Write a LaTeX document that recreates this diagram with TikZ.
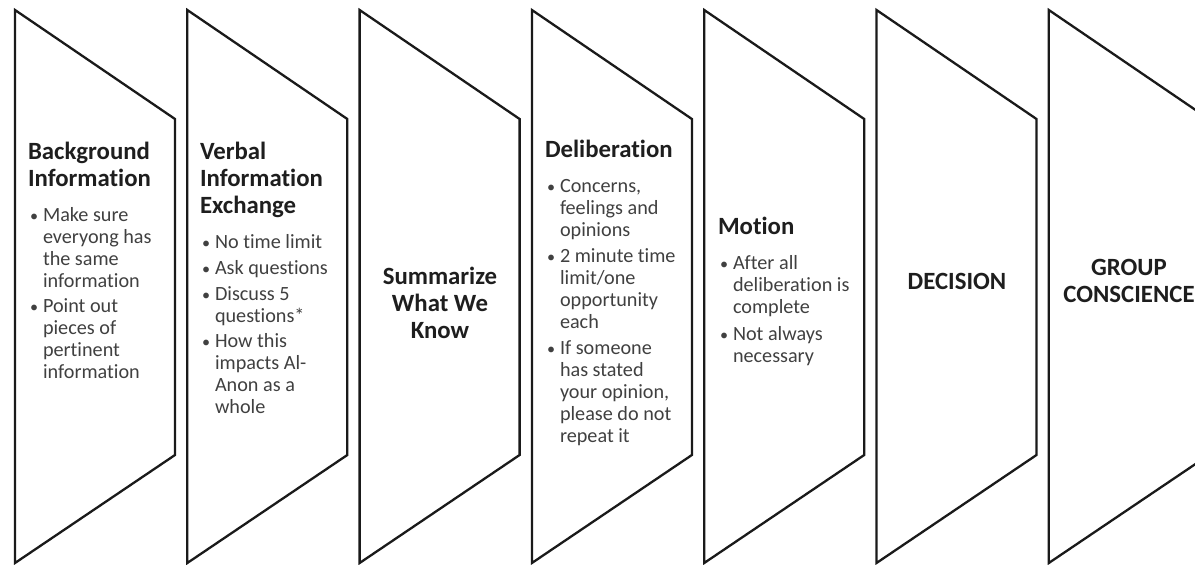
\documentclass[tikz,border=0pt]{standalone}
\usepackage{fontspec}
\setmainfont{Carlito}[Ligatures=NoCommon]
\definecolor{hdcol}{HTML}{1E1E1E}
\definecolor{bucol}{HTML}{404040}
\definecolor{edgecol}{HTML}{1A1A1A}
\newcommand\hdf{\fontsize{24.8}{27}\selectfont\bfseries\color{hdcol}}
\newcommand\buf{\fontsize{20.2}{22}\selectfont\color{bucol}}
\newcommand\nl{\hfil\break}
\newcommand\mycol[2]{\vtop{\hsize=#1\parindent=0pt\parskip=0pt #2}}
\newcommand\bitem[1]{\par\hangindent=15pt\hangafter=1\noindent\makebox[15pt][l]{\hspace{2pt}\scalebox{0.8}{\textbullet}}#1\par}
\tikzset{
  stage/.style={draw=edgecol, line width=2.3pt, line join=miter},
  txt/.style={inner sep=0pt, outer sep=0pt, anchor=base west},
  ctxt/.style={inner sep=0pt, outer sep=0pt, anchor=base},
}
\begin{document}
\begin{tikzpicture}[x=1pt,y=-1pt]
\useasboundingbox (0,0) rectangle (1195,565);
\begin{scope}
\clip (0,0) rectangle (1195,565);
\foreach \L in {15,187.3,359.6,531.9,704.2,876.5,1048.8}{
  \draw[stage] (\L,10) -- (\L+160,119) -- (\L+160,455) -- (\L,563) -- cycle;
}
\end{scope}

\node[txt] (s1) at (28,142) {\mycol{150pt}{{\hdf Background\nl Information\par}\vskip13pt
  {\buf\bitem{Make sure\nl everyong has\nl the same\nl information}\vskip3pt
  \bitem{Point out\nl pieces of\nl pertinent\nl information}}}};

\node[txt] (s2) at (200,142) {\mycol{150pt}{{\hdf Verbal\nl Information\nl Exchange\par}\vskip13pt
  {\buf\bitem{No time limit}\vskip4pt
  \bitem{Ask questions}\vskip4pt
  \bitem{Discuss 5\nl questions*}\vskip3pt
  \bitem{How this\nl impacts Al-\nl Anon as a\nl whole}}}};

\node[ctxt] (s3) at (440,267) {\mycol{160pt}{\hdf\centering Summarize\\What We\\Know\par}};

\node[txt] (s4) at (545,140) {\mycol{150pt}{{\hdf Deliberation\par}\vskip13pt
  {\buf\bitem{Concerns,\nl feelings and\nl opinions}\vskip4pt
  \bitem{2 minute time\nl limit/one\nl opportunity\nl each}\vskip4pt
  \bitem{If someone\nl has stated\nl your opinion,\nl please do not\nl repeat it}}}};

\node[txt] (s5) at (718,217) {\mycol{150pt}{{\hdf Motion\par}\vskip13pt
  {\buf\bitem{After all\nl deliberation is\nl complete}\vskip5pt
  \bitem{Not always\nl necessary}}}};

\node[ctxt] (s6) at (957,273) {\mycol{160pt}{\hdf\centering DECISION\par}};

\node[ctxt] (s7) at (1129,259.5) {\mycol{160pt}{\hdf\centering GROUP\\CONSCIENCE\par}};
\end{tikzpicture}
\end{document}
